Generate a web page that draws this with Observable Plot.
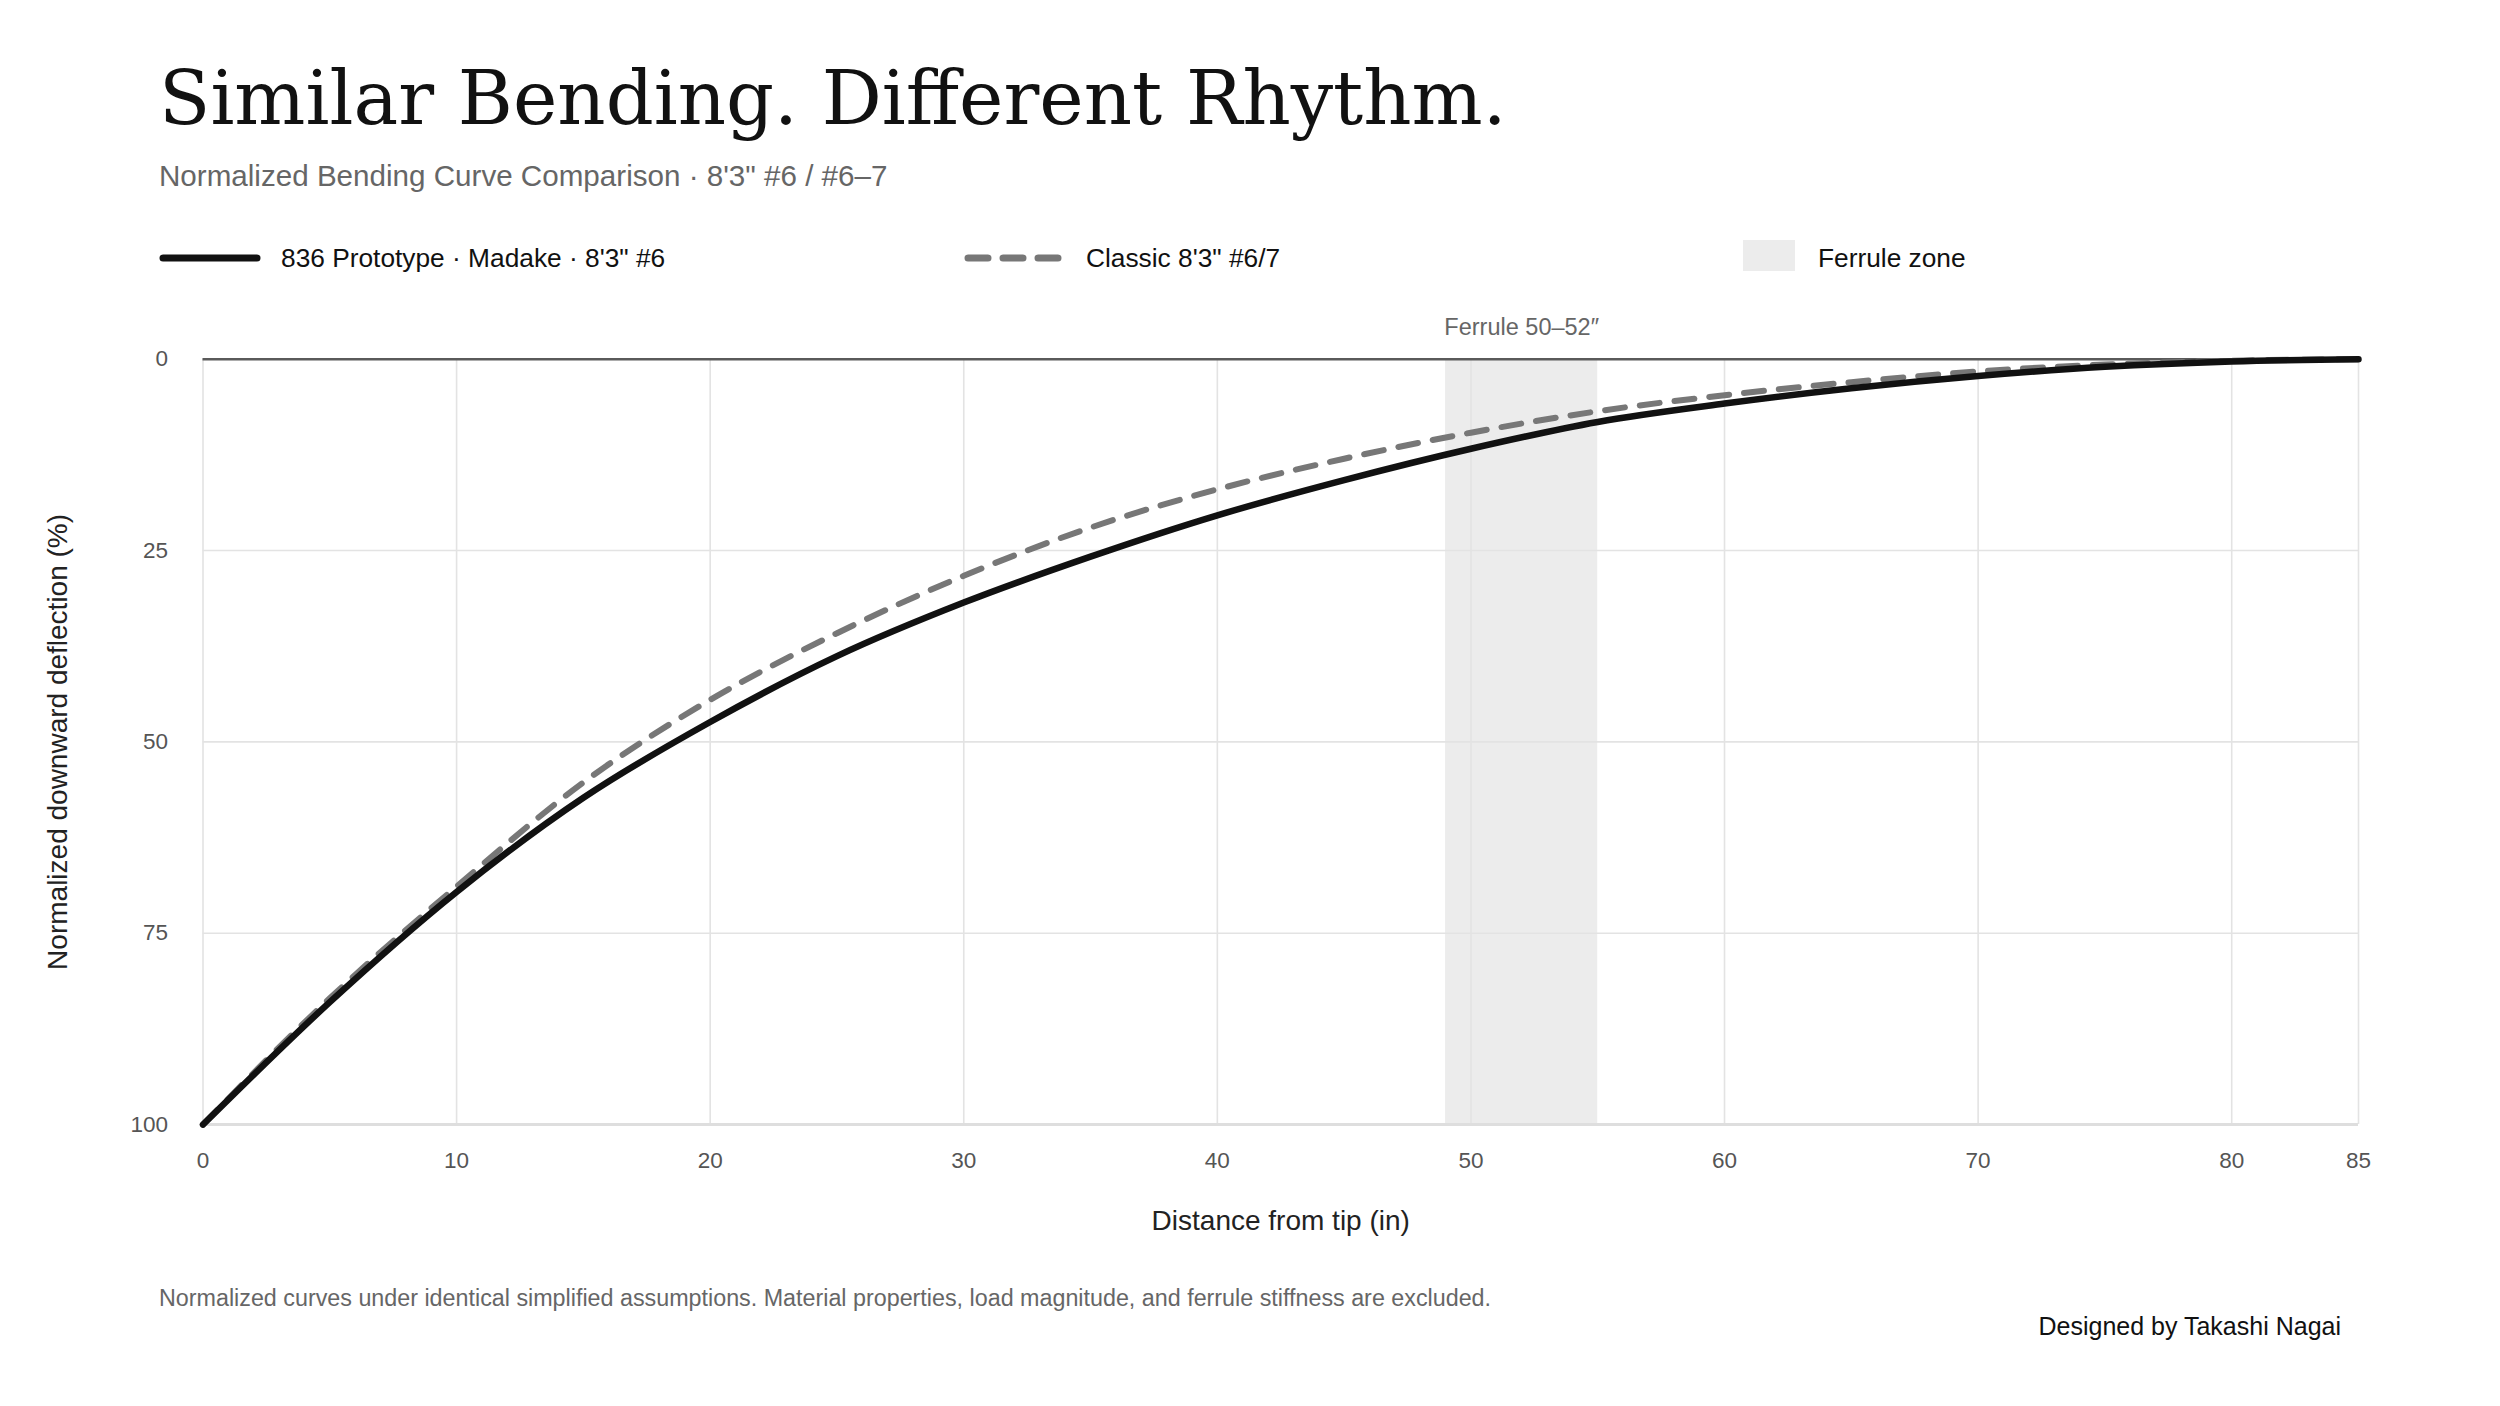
<!DOCTYPE html>
<html>
<head>
<meta charset="utf-8">
<script src="https://cdn.jsdelivr.net/npm/d3@7"></script>
<script src="https://cdn.jsdelivr.net/npm/@observablehq/plot@0.6"></script>
<style>
  html, body { margin: 0; padding: 0; background: #fff; }
  #page { position: relative; width: 2500px; height: 1406px; background: #fff; overflow: hidden; }
  #header, #footer, #chart { position: absolute; left: 0; }
  #header { top: 0; }
  #chart { top: 300px; }
  #footer { top: 1260px; }
  svg text { font-family: "Liberation Sans", Arial, sans-serif; }
</style>
</head>
<body>
<div id="page">
  <svg id="header" width="2500" height="300" xmlns="http://www.w3.org/2000/svg">
    <text x="159" y="124" style="font-family:'DejaVu Serif', serif; font-size:75px; fill:#111;">Similar Bending. Different Rhythm.</text>
    <text x="159" y="186" style="font-size:29.6px; fill:#666;">Normalized Bending Curve Comparison · 8'3" #6 / #6–7</text>
    <line x1="163" x2="257" y1="258" y2="258" stroke="#111" stroke-width="7" stroke-linecap="round"></line>
    <text x="281" y="267" style="font-size:26.3px; fill:#111;">836 Prototype · Madake · 8'3" #6</text>
    <line x1="968" x2="1062" y1="258" y2="258" stroke="#777" stroke-width="7" stroke-linecap="round" stroke-dasharray="20,15"></line>
    <text x="1086" y="267" style="font-size:26.3px; fill:#111;">Classic 8'3" #6/7</text>
    <rect x="1743" y="240" width="52" height="31" fill="#ececec"></rect>
    <text x="1818" y="267" style="font-size:26.3px; fill:#111;">Ferrule zone</text>
  </svg>
  <div id="chart"></div>
  <svg id="footer" width="2500" height="146" xmlns="http://www.w3.org/2000/svg">
    <text x="159" y="46" style="font-size:23.3px; fill:#666;">Normalized curves under identical simplified assumptions. Material properties, load magnitude, and ferrule stiffness are excluded.</text>
    <text x="2341" y="75" text-anchor="end" style="font-size:25px; fill:#111;">Designed by Takashi Nagai</text>
  </svg>
</div>
<script>
// ---- data ----
const distance = [0, 5, 10, 15, 20, 25, 30, 35, 40, 45, 50, 55, 60, 65, 70, 75, 80, 85];
const prototypeDeflection = [100, 84.0, 69.6, 57.3, 47.4, 38.8, 31.8, 25.8, 20.4, 15.8, 11.7, 8.2, 5.8, 3.8, 2.2, 1.0, 0.3, 0];
const classicDeflection   = [100, 83.5, 68.9, 55.3, 44.5, 35.8, 28.3, 22.0, 17.0, 13.0, 9.6, 6.8, 4.7, 3.0, 1.6, 0.7, 0.2, 0];
const xTicks = [0, 10, 20, 30, 40, 50, 60, 70, 80, 85];
const yTicks = [0, 25, 50, 75, 100];
const ferruleZoneStart = 49;
const ferruleZoneEnd = 55;
const ferruleLabelX = 52;
const ferruleLabel = "Ferrule 50–52″";
const xLabel = "Distance from tip (in)";
const yLabel = "Normalized downward deflection (%)";

const prototype = distance.map((d, i) => ({x: d, y: prototypeDeflection[i]}));
const classic = distance.map((d, i) => ({x: d, y: classicDeflection[i]}));
const zone = [{x1: ferruleZoneStart, x2: ferruleZoneEnd, y1: 0, y2: 100}];

const W = 2500, H = 960;
const mL = 202.5, mR = 142, mT = 58.7, mB = 960 - (1124.1 - 300);

const chart = Plot.plot({
  width: W,
  height: H,
  marginLeft: mL,
  marginRight: mR,
  marginTop: mT,
  marginBottom: mB,
  style: {fontFamily: "'Liberation Sans', Arial, sans-serif", background: "#fff", overflow: "visible"},
  x: {domain: [0, 85]},
  y: {domain: [0, 100], reverse: true},
  marks: [
    Plot.rect(zone, {x1: "x1", x2: "x2", y1: "y1", y2: "y2", fill: "#ececec"}),
    Plot.gridX(xTicks, {stroke: "#e3e3e3", strokeOpacity: 1, strokeWidth: 1.6}),
    Plot.gridY([25, 50, 75], {stroke: "#e3e3e3", strokeOpacity: 1, strokeWidth: 1.6}),
    Plot.ruleY([100], {stroke: "#dedede", strokeWidth: 3}),
    Plot.ruleY([0], {stroke: "#5a5a5a", strokeWidth: 2.5}),
    Plot.axisX({ticks: xTicks, tickSize: 0, tickPadding: 27, fontSize: 22.5, color: "#555", label: null, tickFormat: d => String(d)}),
    Plot.axisY({ticks: yTicks, tickSize: 0, tickPadding: 35, fontSize: 22.5, color: "#555", label: null, tickFormat: d => String(d)}),
    Plot.text([xLabel], {frameAnchor: "bottom", dy: 96, lineAnchor: "middle", textAnchor: "middle", fontSize: 28, fill: "#222", text: d => d}),
    Plot.text([yLabel], {frameAnchor: "left", dx: -145, rotate: -90, lineAnchor: "middle", textAnchor: "middle", fontSize: 28, fill: "#222", text: d => d}),
    Plot.text([ferruleLabel], {x: () => ferruleLabelX, y: () => 0, dy: -32, lineAnchor: "middle", fontSize: 23.5, fill: "#666", text: d => d}),
    Plot.line(classic, {x: "x", y: "y", stroke: "#777", strokeWidth: 6, strokeDasharray: "20,15", strokeLinecap: "round", curve: "monotone-x"}),
    Plot.line(prototype, {x: "x", y: "y", stroke: "#111", strokeWidth: 6.5, strokeLinecap: "round", curve: "monotone-x"})
  ]
});
document.getElementById("chart").appendChild(chart);
</script>
</body>
</html>
